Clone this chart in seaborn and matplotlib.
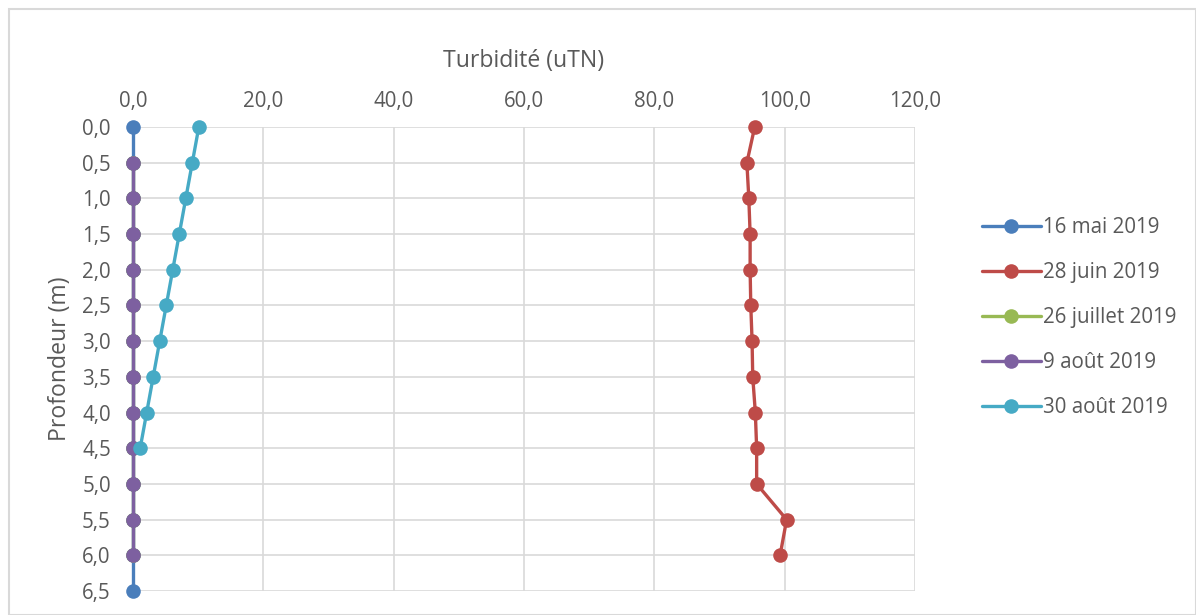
import numpy as np
import pandas as pd
import matplotlib
matplotlib.use("Agg")
import matplotlib.pyplot as plt
from matplotlib.patches import Rectangle
from matplotlib.ticker import FuncFormatter
import seaborn as sns

# Depth levels (m)
depths_full = [0.0, 0.5, 1.0, 1.5, 2.0, 2.5, 3.0, 3.5, 4.0, 4.5, 5.0, 5.5, 6.0, 6.5]
depths_mid = [0.5, 1.0, 1.5, 2.0, 2.5, 3.0, 3.5, 4.0, 4.5, 5.0, 5.5, 6.0]
depths_surface = [0.0, 0.5, 1.0, 1.5, 2.0, 2.5, 3.0, 3.5, 4.0, 4.5]
depths_june = [0.0, 0.5, 1.0, 1.5, 2.0, 2.5, 3.0, 3.5, 4.0, 4.5, 5.0, 5.5, 6.0]

# Turbidity (uTN) per sampling date
turb_16_mai = [0.0] * 14
turb_28_juin = [95.4, 94.2, 94.5, 94.7, 94.7, 94.8, 95.0, 95.1, 95.5, 95.7, 95.7, 100.3, 99.3]
turb_26_juillet = [0.0] * 12
turb_9_aout = [0.0] * 12
turb_30_aout = [10.1, 9.1, 8.1, 7.1, 6.1, 5.1, 4.1, 3.1, 2.1, 1.1]

series_names = ["16 mai 2019", "28 juin 2019", "26 juillet 2019", "9 août 2019", "30 août 2019"]
series_depths = [depths_full, depths_june, depths_mid, depths_mid, depths_surface]
series_values = [turb_16_mai, turb_28_juin, turb_26_juillet, turb_9_aout, turb_30_aout]
colors = ["#4A7EBB", "#BE4B48", "#98B954", "#7D60A0", "#46AAC5"]

frames = []
for name, d, v in zip(series_names, series_depths, series_values):
    frames.append(pd.DataFrame({"Date": name, "Profondeur": d, "Turbidite": v}))
df = pd.concat(frames, ignore_index=True)

sns.set_theme(style="white")
plt.rcParams["font.family"] = ["Open Sans", "DejaVu Sans"]
text_color = "#595959"
grid_color = "#D9D9D9"

fig = plt.figure(figsize=(11.96, 6.15), dpi=100)
ax = fig.add_axes([133 / 1196, 1 - 591 / 615, (915 - 133) / 1196, (591 - 127) / 615])

sns.lineplot(
    data=df, x="Turbidite", y="Profondeur", hue="Date",
    hue_order=series_names, palette=colors,
    sort=False, orient="y", estimator=None,
    marker="o", markersize=10.5, markeredgewidth=0,
    linewidth=2.4, ax=ax, legend=True, clip_on=False, zorder=3,
)

ax.set_xlim(0, 120)
ax.set_ylim(6.5, 0)
ax.set_xticks(np.arange(0, 121, 20))
ax.set_yticks(np.arange(0, 6.51, 0.5))
fmt = FuncFormatter(lambda v, p: f"{v:.1f}".replace(".", ","))
ax.xaxis.set_major_formatter(fmt)
ax.yaxis.set_major_formatter(fmt)
ax.xaxis.tick_top()
ax.xaxis.set_label_position("top")
ax.tick_params(axis="both", length=0, labelsize=14.8, labelcolor=text_color)
ax.tick_params(axis="y", pad=16)
ax.tick_params(axis="x", pad=11)

ax.grid(True, color=grid_color, linewidth=1.2)
ax.set_axisbelow(True)
for s in ax.spines.values():
    s.set_visible(False)

ax.set_xlabel("Turbidité (uTN)", fontsize=16.6, color=text_color, labelpad=17)
ax.set_ylabel("Profondeur (m)", fontsize=16.6, color=text_color, labelpad=7)

leg = ax.legend(
    loc="upper left", bbox_to_anchor=(963 / 1196, 1 - 199 / 615),
    bbox_transform=fig.transFigure, frameon=False, fontsize=14.8,
    labelspacing=1.16, handlelength=2.9, handletextpad=0.1,
)
for t in leg.get_texts():
    t.set_color(text_color)

fig.patches.append(Rectangle((9 / 1196, 0), 1 - 9 / 1196, 1 - 9 / 615,
                             transform=fig.transFigure, fill=False,
                             edgecolor=grid_color, linewidth=1.5))

fig.savefig("out.png", dpi=100)
